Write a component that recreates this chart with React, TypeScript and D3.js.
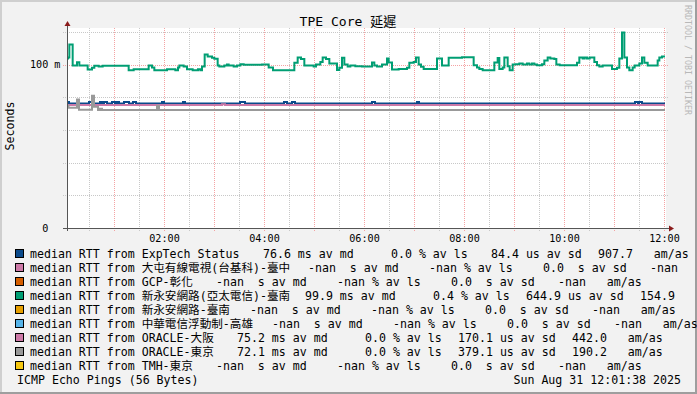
import React from 'react';
import * as d3 from 'd3';

// ---------- DATA ----------
// step change points: [minutes since 00:00, milliseconds]
const greenSteps: [number, number][] = [
  [3.6, 103.7], [4.8, 104.3], [6.4, 112.2], [10.4, 99.4], [15.6, 101.4], [18.4, 99.4],
  [28.4, 96.9], [33.6, 98.0], [36.4, 99.2], [41.6, 98.8], [46.4, 99.2], [77.6, 96.5],
  [83.6, 97.1], [101.6, 99.4], [105.6, 98.2], [108.4, 96.5], [123.6, 97.1], [133.6, 96.5],
  [136.8, 98.2], [138.4, 99.4], [143.6, 98.8], [147.6, 97.1], [154.4, 96.5], [160.8, 97.1],
  [163.6, 96.5], [165.6, 98.8], [168.8, 106.1], [172.4, 104.9], [177.6, 104.1], [180.4, 103.5],
  [184.4, 99.4], [186.4, 98.8], [192.4, 99.4], [195.6, 100.0], [197.6, 99.4], [203.6, 98.8],
  [207.6, 99.4], [211.6, 100.2], [215.6, 99.8], [237.6, 100.0], [245.6, 98.2], [250.8, 96.5],
  [276.4, 101.0], [280.4, 104.3], [284.4, 103.3], [288.4, 99.4], [299.6, 98.8], [302.4, 100.0],
  [307.6, 101.6], [310.4, 104.3], [314.4, 103.3], [318.4, 100.6], [327.6, 96.7], [330.4, 98.0],
  [333.6, 104.1], [336.4, 100.0], [340.4, 98.8], [343.6, 99.4], [349.6, 99.0], [357.6, 98.8],
  [369.6, 101.2], [372.4, 99.4], [375.6, 98.8], [381.6, 100.0], [387.6, 103.7], [389.6, 101.2],
  [393.6, 96.9], [401.6, 97.3], [411.6, 98.0], [414.4, 101.0], [419.6, 101.6], [422.4, 104.3],
  [425.6, 100.0], [428.4, 98.6], [431.6, 97.3], [447.6, 103.7], [453.6, 99.4], [461.6, 104.1],
  [477.6, 104.4], [491.6, 99.6], [495.6, 98.2], [498.4, 97.3], [502.4, 96.5], [516.4, 101.2],
  [520.4, 103.9], [522.4, 97.3], [526.4, 98.2], [528.4, 104.3], [532.4, 99.0], [534.8, 96.5],
  [538.4, 100.0], [541.6, 100.2], [546.4, 100.6], [550.4, 100.0], [555.6, 100.6], [558.4, 100.0],
  [561.6, 100.6], [564.4, 100.0], [567.6, 99.6], [573.6, 100.2], [576.4, 102.4], [580.4, 104.3],
  [583.6, 103.7], [588.4, 103.3], [590.8, 100.0], [594.8, 99.6], [615.6, 101.0], [618.4, 104.3],
  [622.4, 103.7], [624.8, 104.3], [627.6, 103.7], [630.8, 104.3], [636.4, 101.6], [639.6, 99.6],
  [642.4, 98.8], [646.4, 99.4], [657.6, 97.3], [663.6, 98.0], [666.4, 103.7], [669.6, 119.6],
  [672.4, 104.3], [675.6, 98.2], [678.4, 96.5], [682.4, 98.2], [684.8, 99.4], [690.4, 100.6],
  [693.6, 104.3], [696.4, 101.0], [700.4, 99.4], [712.4, 102.4], [714.4, 104.3], [717.6, 104.9],
];

const blueSteps: [number, number][] = [
  [3.6, 77.0], [6.0, 76.1], [15.6, 77.0], [18.0, 76.1], [30.0, 77.0], [33.6, 76.1],
  [43.2, 77.0], [45.6, 76.1], [48.0, 77.0], [51.6, 76.1], [57.6, 77.0], [61.2, 76.1],
  [63.6, 77.0], [66.0, 76.1], [72.0, 77.0], [78.0, 76.1], [82.8, 77.0], [86.4, 76.1],
  [117.6, 77.0], [120.0, 76.1], [142.8, 77.0], [145.2, 76.1], [211.2, 77.0], [217.2, 76.1],
  [264.0, 77.0], [267.6, 76.1], [273.6, 77.0], [277.2, 76.1], [369.6, 77.0], [373.2, 76.1],
  [423.6, 77.0], [426.0, 76.1], [685.2, 77.0], [688.8, 76.1], [690.0, 77.0], [693.6, 76.1],
];

const pinkSteps: [number, number][] = [
  [3.6, 75.2], [189.6, 75.7], [193.2, 75.2],
];

const graySteps: [number, number][] = [
  [3.6, 74.9], [5.4, 73.6], [15.6, 78.6], [18.0, 72.4], [33.6, 80.9], [36.0, 74.2],
  [40.8, 72.1], [43.2, 73.0], [45.6, 72.1], [111.6, 74.8], [114.0, 72.1],
];

const END_MINUTE = 721.2;

const hostNames = [
  'ExpTech Status',
  '大屯有線電視(台基科)-臺中',
  'GCP-彰化',
  '新永安網路(亞太電信)-臺南',
  '新永安網路-臺南',
  '中華電信浮動制-高雄',
  'ORACLE-大阪',
  'ORACLE-東京',
  'TMH-東京',
];
// null = -nan
const medianValues: (number | null)[] = [76.6, null, null, 99.9, null, null, 75.2, 72.1, null];
const medianUnits = ['ms', ' s', ' s', 'ms', ' s', ' s', 'ms', 'ms', ' s'];
const lossValues: (number | null)[] = [0.0, null, null, 0.4, null, null, 0.0, 0.0, null];
const sdValues: (number | null)[] = [84.4, 0.0, 0.0, 644.9, 0.0, 0.0, 170.1, 379.1, 0.0];
const sdUnits = ['us', ' s', ' s', 'us', ' s', ' s', 'us', 'us', ' s'];
const amasValues: (number | null)[] = [907.7, null, null, 154.9, null, null, 442.0, 190.2, null];

const yMajorTicks = [0, 100];
const yMinorTicks = [20, 40, 60, 80, 120];
const titleText = 'TPE Core 延遲';
const yAxisTitle = 'Seconds';
const footerLeft = 'ICMP Echo Pings (56 Bytes)';
const footerRight = 'Sun Aug 31 12:01:38 2025';
const watermark = 'RRDTOOL / TOBI OETIKER';

// ---------- STYLE / LAYOUT ----------
const hostColors = ['#0b4a8b', '#cc79a7', '#d55e00', '#009e73', '#e69f00', '#56b4e9', '#cc79a7', '#999999', '#f5c710'];
const seriesDraw: { steps: [number, number][]; color: string }[] = [
  { steps: blueSteps, color: hostColors[0] },
  { steps: greenSteps, color: hostColors[3] },
  { steps: pinkSteps, color: hostColors[6] },
  { steps: graySteps, color: hostColors[7] },
];
// x where the statistics part of each legend row starts
const legendStatX = [249, 294, 202, 291, 236, 258, 223, 223, 202];
const statOffsets = [0, 128, 235, 349];

const W = 697;
const H = 394;
const PLOT_L = 67;
const PLOT_R = 665;
const PLOT_T = 28;
const PLOT_B = 228;
const MONO = "'DejaVu Sans Mono', 'Noto Sans CJK TC', monospace";
const LEGEND_FS = 11.6;
const LEGEND_CW = 0.602 * LEGEND_FS;
const AXIS_FS = 10.15;
const PRE: React.CSSProperties = { whiteSpace: 'pre' };

const num = (v: number | null, w: number) => (v === null ? '-nan' : v.toFixed(1)).padStart(w, ' ');

export default function App() {
  const t0 = new Date(2025, 7, 31, 0, 0, 0);
  const t12 = new Date(2025, 7, 31, 12, 0, 0);
  const toDate = (m: number) => new Date(t0.getTime() + m * 60000);
  const x = d3.scaleTime().domain([t0, t12]).range([64, 664]);
  const y = d3.scaleLinear().domain([0, 100]).range([PLOT_B, 64.5]);

  const minorX = d3.timeMinute.every(30)!.range(t0, toDate(END_MINUTE)).filter((d) => d.getMinutes() === 30);
  const majorX = d3.timeHour.every(1)!.range(toDate(1), toDate(END_MINUTE));
  const labelX = d3.timeHour.every(2)!.range(toDate(1), toDate(END_MINUTE));
  const fmt = d3.timeFormat('%H:%M');

  const line = d3
    .line<[number, number]>()
    .x((d) => x(toDate(d[0])))
    .y((d) => y(d[1]))
    .curve(d3.curveStepAfter);

  const axisCW = 0.602 * AXIS_FS;
  const yLabel = (v: number) => (v === 0 ? '\u00a0\u00a00' : `${v} m`);

  const T = (props: any) => <text xmlSpace="preserve" style={PRE} {...props} />;

  return (
    <svg
      width={W}
      height={H}
      style={{ position: 'absolute', left: 0, top: 0, fontFamily: MONO }}
      xmlns="http://www.w3.org/2000/svg"
    >
      <defs>
        <clipPath id="plotclip">
          <rect x={PLOT_L} y={PLOT_T} width={PLOT_R - PLOT_L} height={PLOT_B - PLOT_T} />
        </clipPath>
      </defs>
      {/* background + 3D frame */}
      <rect x={0} y={0} width={W} height={H} fill="#f2f2f2" />
      <rect x={0} y={0} width={W} height={2} fill="#cfcfcf" />
      <rect x={0} y={0} width={2} height={H} fill="#cfcfcf" />
      <rect x={0} y={H - 2} width={W} height={2} fill="#9e9e9e" />
      <rect x={W - 2} y={0} width={2} height={H} fill="#9e9e9e" />

      {/* canvas */}
      <rect x={PLOT_L} y={PLOT_T} width={PLOT_R - PLOT_L + 1} height={PLOT_B - PLOT_T} fill="#ffffff" />

      {/* minor grid */}
      {minorX.map((d, i) => (
        <line key={'mx' + i} x1={Math.round(x(d)) + 0.5} x2={Math.round(x(d)) + 0.5} y1={PLOT_T} y2={PLOT_B + 3}
          stroke="#c8c8c8" strokeWidth={1} strokeDasharray="1,1" />
      ))}
      {yMinorTicks.map((v, i) => (
        <line key={'my' + i} x1={63} x2={668} y1={Math.round(y(v)) + 0.5} y2={Math.round(y(v)) + 0.5}
          stroke="#c8c8c8" strokeWidth={1} strokeDasharray="1,1" />
      ))}
      {/* major grid */}
      {majorX.map((d, i) => (
        <line key={'Mx' + i} x1={Math.round(x(d)) + 0.5} x2={Math.round(x(d)) + 0.5} y1={PLOT_T} y2={PLOT_B + 3}
          stroke="#f4a3a3" strokeWidth={1} strokeDasharray="1,1" />
      ))}
      {yMajorTicks.filter((v) => v > 0).map((v, i) => (
        <line key={'My' + i} x1={63} x2={668} y1={Math.round(y(v)) + 0.5} y2={Math.round(y(v)) + 0.5}
          stroke="#f4a3a3" strokeWidth={1} strokeDasharray="1,1" />
      ))}

      {/* series */}
      <g clipPath="url(#plotclip)">
        {seriesDraw.map((s, i) => {
          const pts: [number, number][] = [...s.steps, [END_MINUTE, s.steps[s.steps.length - 1][1]]];
          return <path key={'s' + i} d={line(pts) || ''} fill="none" stroke={s.color} strokeWidth={2} />;
        })}
      </g>

      {/* axes */}
      <line x1={PLOT_L + 0.5} x2={PLOT_L + 0.5} y1={PLOT_B + 3} y2={25} stroke="#555" strokeWidth={1} />
      <line x1={63} x2={670} y1={PLOT_B + 0.5} y2={PLOT_B + 0.5} stroke="#555" strokeWidth={1} />
      <path d={`M${PLOT_L + 0.5 - 3},26 L${PLOT_L + 0.5 + 3},26 L${PLOT_L + 0.5},21 Z`} fill="#8b1c1c" />
      <path d={`M669,${PLOT_B + 0.5 - 3} L669,${PLOT_B + 0.5 + 3} L674,${PLOT_B + 0.5} Z`} fill="#8b1c1c" />

      {/* y labels */}
      {yMajorTicks.map((v, i) => (
        <T key={'yl' + i} x={60.5 - 5 * axisCW} y={y(v) + 3.7} fontSize={AXIS_FS} fill="#000">
          {yLabel(v)}
        </T>
      ))}
      {/* x labels */}
      {labelX.map((d, i) => (
        <text key={'xl' + i} x={x(d) + 0.5} y={241.7} fontSize={AXIS_FS} textAnchor="middle" fill="#000">
          {fmt(d)}
        </text>
      ))}

      {/* title */}
      <text x={348} y={26.3} fontSize={13.05} textAnchor="middle" fill="#000">{titleText}</text>
      {/* y axis title */}
      <text transform="translate(13.8,126) rotate(-90)" fontSize={LEGEND_FS} textAnchor="middle" fill="#000">
        {yAxisTitle}
      </text>
      {/* watermark */}
      <text transform="translate(685,5) rotate(90)" fontSize={8.3} fill="#b8b8b8">{watermark}</text>

      {/* legend */}
      {hostNames.map((name, i) => {
        const by = 258 + 14 * i;
        const sx = legendStatX[i];
        const items = [
          `${num(medianValues[i], 6)} ${medianUnits[i]} av md`,
          `${num(lossValues[i], 5)} % av ls`,
          `${num(sdValues[i], 5)} ${sdUnits[i]} av sd`,
          num(amasValues[i], 5),
        ];
        const amasLabelX = sx + statOffsets[3] + 8 * LEGEND_CW;
        return (
          <g key={'lg' + i} fontSize={LEGEND_FS} fill="#000">
            <rect x={15.5} y={by - 8.5} width={8} height={8} fill={hostColors[i]} stroke="#000" strokeWidth={1} />
            <T x={30} y={by}>{`median RTT from ${name}`}</T>
            {items.map((s, k) => (
              <T key={k} x={sx + statOffsets[k]} y={by}>{s}</T>
            ))}
            {amasLabelX + 3 < W && <T x={amasLabelX} y={by}>am/as</T>}
          </g>
        );
      })}
      <text x={17} y={384} fontSize={LEGEND_FS} fill="#000">{footerLeft}</text>
      <text x={681} y={384} fontSize={LEGEND_FS} textAnchor="end" fill="#000">{footerRight}</text>
    </svg>
  );
}
